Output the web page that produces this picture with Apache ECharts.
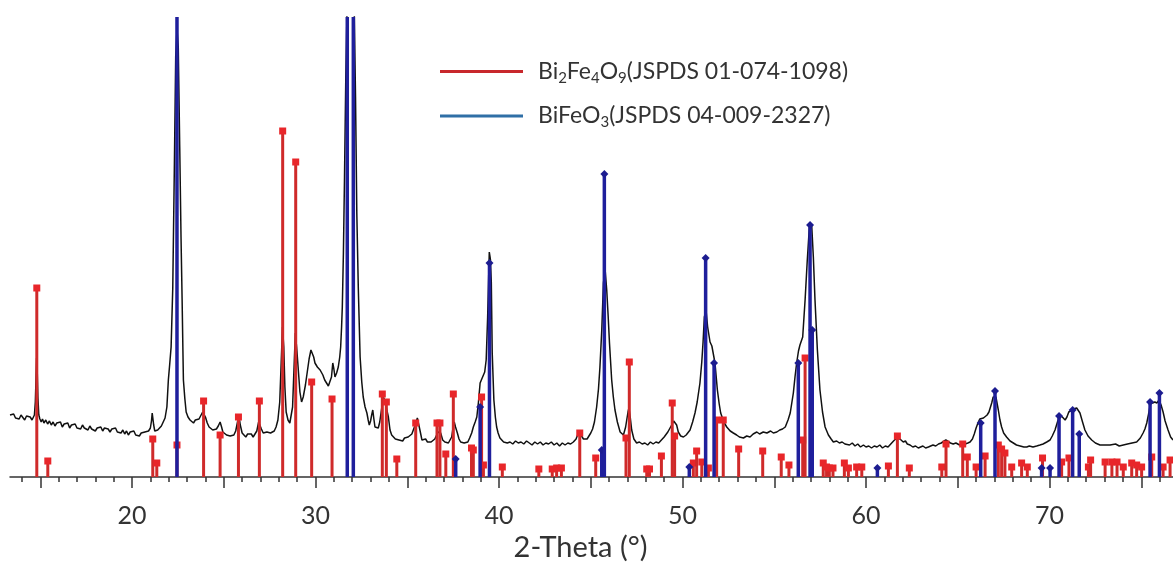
<!DOCTYPE html>
<html><head><meta charset="utf-8">
<script src="https://cdn.jsdelivr.net/npm/echarts@6/dist/echarts.min.js"></script>
<style>html,body{margin:0;padding:0;background:#fff}#c{width:1173px;height:572px}</style>
</head><body><div id="c"></div>
<script>
// measured XRD pattern: [2-theta (deg), intensity (a.u.)]
const xrdPattern = [
[13.35,62],[13.45,60],[13.55,63],[13.65,59],[13.75,61],[13.85,58],[13.95,62],[14.05,60],[14.15,57],[14.25,61],[14.35,59],[14.45,60],[14.55,57],[14.62,59],[14.68,62],[14.73,75],[14.77,100],[14.8,119],[14.83,108],[14.87,80],[14.92,62],[14.98,58],[15.05,55],[15.12,58],[15.2,54],
[15.3,57],[15.4,53],[15.5,56],[15.6,52],[15.7,55],[15.8,51],[15.9,54],[16.0,52],[16.1,55],[16.2,50],[16.3,53],[16.4,51],[16.5,54],[16.6,49],[16.7,52],[16.8,50],[16.9,53],[17.0,49],[17.1,51],[17.2,48],[17.3,52],[17.4,49],[17.5,50],[17.6,47],[17.7,51],[17.8,48],[17.9,50],[18.0,46],[18.1,49],[18.2,47],[18.3,50],[18.4,46],[18.5,49],[18.6,47],[18.7,48],[18.8,45],[18.9,48],[19.0,46],[19.1,49],[19.2,45],[19.3,47],[19.4,44],[19.5,47],[19.6,43],[19.7,46],[19.8,42],[19.9,45],[20.0,43],[20.1,46],[20.2,42],[20.3,44],[20.4,41],[20.5,44],[20.6,42],[20.7,45],[20.8,47],[20.9,46],[21.0,49],[21.06,56],[21.1,64],[21.14,62],[21.18,52],[21.24,46],[21.3,45],[21.4,47],[21.5,49],[21.6,51],[21.7,55],[21.8,59],[21.9,70],[21.98,97],[22.05,112],[22.13,130],[22.22,189],[22.3,300],[22.38,420],[22.45,448],[22.52,430],[22.6,330],[22.67,240],[22.73,177],[22.77,130],[22.8,97],[22.88,78],[22.95,65],[23.05,60],[23.16,57],[23.25,55],[23.35,54],[23.45,57],[23.55,55],[23.65,58],[23.75,60],[23.85,65],[23.92,67],[24.0,60],[24.1,54],[24.2,50],[24.3,48],[24.4,47],[24.5,46],[24.6,48],[24.7,51],[24.8,55],[24.88,50],[24.95,45],[25.05,44],[25.15,42],[25.25,44],[25.35,41],[25.45,43],[25.55,42],[25.65,46],[25.75,55],[25.82,62],[25.9,52],[26.0,44],[26.1,42],[26.2,40],[26.3,43],[26.4,41],[26.5,43],[26.6,40],[26.7,42],[26.8,46],[26.9,55],[26.96,57],[27.05,48],[27.15,44],[27.25,42],[27.35,45],[27.45,43],[27.55,44],[27.65,42],[27.75,46],[27.85,50],[27.95,57],[28.05,75],[28.12,110],[28.2,150],[28.27,130],[28.33,90],[28.4,65],[28.5,57],[28.6,54],[28.68,56],[28.75,70],[28.82,105],[28.9,144],[28.97,130],[29.05,110],[29.15,85],[29.24,75],[29.33,80],[29.45,92],[29.55,105],[29.65,118],[29.75,127],[29.82,129],[29.9,120],[29.97,114],[30.1,110],[30.25,107],[30.4,102],[30.5,97],[30.6,94],[30.7,91],[30.8,90],[30.87,100],[30.94,114],[31.0,108],[31.06,100],[31.15,104],[31.24,110],[31.32,120],[31.37,130],[31.42,150],[31.46,170],[31.52,224],[31.58,300],[31.65,400],[31.72,470],[31.8,500],[31.9,490],[32.0,500],[32.1,480],[32.18,380],[32.25,264],[32.33,190],[32.43,120],[32.52,95],[32.6,80],[32.7,70],[32.8,64],[32.87,57],[32.93,52],[33.0,56],[33.06,62],[33.12,67],[33.18,58],[33.24,50],[33.33,48],[33.42,49],[33.5,55],[33.6,68],[33.7,80],[33.78,76],[33.88,77],[33.97,60],[34.06,47],[34.15,42],[34.24,40],[34.35,38],[34.45,40],[34.55,37],[34.65,39],[34.75,36],[34.85,39],[34.95,37],[35.05,40],[35.15,38],[35.25,43],[35.33,47],[35.45,53],[35.55,59],[35.62,57],[35.7,46],[35.8,37],[35.9,36],[36.0,38],[36.1,35],[36.2,37],[36.3,35],[36.4,37],[36.5,38],[36.6,40],[36.68,45],[36.75,47],[36.82,44],[36.93,37],[37.05,35],[37.15,34],[37.24,34],[37.33,37],[37.42,40],[37.5,50],[37.56,55],[37.63,50],[37.73,44],[37.82,38],[37.91,35],[38.0,36],[38.1,34],[38.2,36],[38.3,35],[38.4,39],[38.51,44],[38.6,50],[38.7,55],[38.79,60],[38.88,75],[38.97,94],[39.06,98],[39.15,100],[39.22,105],[39.3,117],[39.38,160],[39.47,225],[39.53,218],[39.58,195],[39.63,124],[39.72,77],[39.8,60],[39.87,50],[39.95,44],[40.05,39],[40.15,37],[40.25,35],[40.35,36],[40.45,34],
[40.6,35],[40.75,33],[40.9,36],[41.05,34],[41.2,35],[41.35,33],[41.5,36],[41.65,34],[41.8,32],[41.95,35],[42.1,33],[42.25,35],[42.4,32],[42.55,34],[42.7,33],[42.85,35],[43.0,32],[43.15,34],[43.3,31],[43.45,34],[43.6,32],[43.75,34],[43.9,33],[44.05,35],[44.2,38],[44.3,43],[44.4,45],[44.5,41],[44.6,38],[44.7,37],[44.8,38],[44.9,41],[45.0,44],[45.1,48],[45.2,55],[45.32,70],[45.42,88],[45.5,110],[45.6,147],[45.69,194],[45.78,208],[45.87,187],[45.95,160],[46.02,134],[46.14,97],[46.23,80],[46.32,67],[46.45,55],[46.6,45],[46.78,42],[46.9,50],[46.96,57],[47.03,65],[47.08,69],[47.15,60],[47.23,47],[47.35,38],[47.5,34],[47.65,35],[47.8,33],[47.95,34],[48.1,32],[48.25,35],[48.4,33],[48.55,35],[48.7,34],[48.85,37],[49.0,40],[49.2,45],[49.41,52],[49.52,56],[49.6,57],[49.68,52],[49.77,45],[49.9,41],[50.05,40],[50.2,42],[50.3,44],[50.41,47],[50.55,55],[50.68,64],[50.8,75],[50.95,94],[51.05,115],[51.12,135],[51.19,160],[51.28,167],[51.37,150],[51.5,135],[51.6,131],[51.68,129],[51.77,114],[51.9,87],[52.0,73],[52.08,64],[52.25,55],[52.41,50],[52.6,46],[52.77,44],[52.95,42],[53.1,40],[53.32,39],[53.5,41],[53.68,40],[53.85,43],[54.05,45],[54.2,43],[54.4,45],[54.6,44],[54.8,46],[54.95,44],[55.14,45],[55.3,47],[55.45,48],[55.6,50],[55.75,57],[55.87,64],[56.04,84],[56.13,100],[56.22,114],[56.32,126],[56.4,132],[56.55,140],[56.62,160],[56.68,177],[56.8,217],[56.91,249],[57.04,252],[57.13,220],[57.22,177],[57.35,127],[57.49,87],[57.63,65],[57.77,50],[57.95,42],[58.1,38],[58.22,35],[58.4,36],[58.55,34],[58.7,35],[58.85,33],[58.95,34],[59.1,32],[59.25,34],[59.4,31],[59.55,33],[59.7,30],[59.86,32],[60.0,30],[60.15,31],[60.3,29],[60.45,31],[60.6,30],[60.75,32],[60.9,29],[61.05,31],[61.2,30],[61.35,33],[61.5,36],[61.6,38],[61.67,39],[61.75,37],[61.85,38],[61.95,36],[62.03,35],[62.15,36],[62.25,33],[62.4,32],[62.55,30],[62.7,31],[62.85,29],[62.95,29],[63.1,31],[63.25,29],[63.4,30],[63.5,30],[63.65,32],[63.8,31],[63.95,33],[64.1,34],[64.2,35],[64.35,37],[64.45,36],[64.6,34],[64.75,33],[64.9,34],[65.1,32],[65.25,34],[65.4,33],[65.55,34],[65.67,35],[65.8,38],[65.9,43],[66.0,49],[66.1,54],[66.2,58],[66.3,60],[66.4,59],[66.5,59],[66.6,62],[66.7,65],[66.76,67],[66.85,74],[66.93,80],[66.98,82],[67.08,80],[67.15,73],[67.21,67],[67.3,57],[67.39,50],[67.5,44],[67.66,40],[67.85,36],[68.03,34],[68.2,32],[68.4,31],[68.6,30],[68.76,30],[68.9,31],[69.1,30],[69.3,31],[69.48,32],[69.65,33],[69.85,35],[70.03,37],[70.15,41],[70.3,47],[70.45,56],[70.57,62],[70.7,60],[70.85,57],[70.95,60],[71.05,65],[71.12,67],[71.3,68],[71.48,69],[71.56,67],[71.66,64],[71.8,55],[71.93,47],[72.1,41],[72.3,37],[72.5,34],[72.75,32],[73.0,32],[73.3,32],[73.6,33],[73.8,31],[74.02,32],[74.25,33],[74.5,34],[74.75,35],[74.95,39],[75.1,44],[75.2,48],[75.3,54],[75.4,63],[75.5,74],[75.62,74],[75.74,75],[75.85,74],[75.97,77],[76.08,72],[76.19,65],[76.3,56],[76.46,47],[76.6,40],[76.73,37]
];
// reference pattern Bi2Fe4O9 (JSPDS 01-074-1098): [2-theta, relative intensity]
const bi2fe4o9Sticks = [
[14.81,189],[15.41,16],[21.13,38],[21.35,14],[22.45,32],[23.9,76],[24.8,42],[25.8,60],[26.94,76],[28.21,346],[28.92,315],[29.79,95],[30.9,78],[33.64,83],[33.86,75],[34.43,18],[35.46,54],[36.62,54],[36.78,54],[37.1,23],[37.51,83],[38.5,29],[38.6,27],[39.05,80],[39.15,12],[40.18,10],[42.17,8],[42.9,8],[43.14,9],[43.4,9],[44.4,44],[45.27,19],[46.92,39],[47.1,115],[48.05,8],[48.2,8],[48.85,21],[49.44,74],[49.57,41],[50.59,14],[50.77,26],[51.05,15],[51.41,9],[51.86,57],[52.22,57],[53.06,28],[54.37,26],[55.38,20],[55.8,12],[56.55,37],[56.68,119],[57.67,14],[57.85,10],[58.0,9],[58.2,9],[58.82,14],[59.04,9],[59.49,10],[59.77,10],[61.22,11],[61.71,41],[62.36,9],[64.13,10],[64.36,33],[65.27,33],[65.52,20],[66.0,10],[66.49,21],[67.21,32],[67.39,28],[67.57,24],[67.94,10],[68.48,14],[68.79,10],[69.62,19],[70.66,15],[71.06,19],[72.12,10],[72.24,17],[73.03,15],[73.4,15],[73.68,15],[74.02,10],[74.48,14],[74.75,12],[75.02,10],[75.57,20],[76.19,10],[76.57,17]
];
// reference pattern BiFeO3 (JSPDS 04-009-2327)
const bifeo3Sticks = [
[22.45,500],[31.73,500],[32.06,500],[37.64,18],[38.97,70],[39.48,214],[45.6,27],[45.74,303],[50.37,10],[51.26,219],[51.72,114],[56.31,114],[56.95,252],[57.07,147],[60.62,9],[66.25,54],[67.03,86],[69.57,9],[70.03,9],[70.52,61],[71.26,67],[71.62,43],[75.48,75],[75.99,84]
];
const majorTicks = [15,20,25,30,35,40,45,50,55,60,65,70,75];
const tickLabels = [20,30,40,50,60,70];
const minorTicks = [14,15,16,17,18,19,20,21,22,23,24,25,26,27,28,29,30,31,32,33,34,35,36,37,38,39,40,41,42,43,44,45,46,47,48,49,50,51,52,53,54,55,56,57,58,59,60,61,62,63,64,65,66,67,68,69,70,71,72,73,74,75,76];
const legendLabels = {
  'Bi2Fe4O9': '{n|Bi}{s|2}{n|Fe}{s|4}{n|O}{s|9}{n|(JSPDS 01-074-1098)}',
  'BiFeO3': '{n|BiFeO}{s|3}{n|(JSPDS 04-009-2327)}'
};

function stickRenderer(lineColor, markColor, shape, w, ms) {
  return function (params, api) {
    const x = api.value(0), h = api.value(1);
    const p0 = api.coord([x, 0]), p1 = api.coord([x, h]);
    const children = [{type: 'line', shape: {x1: p0[0], y1: p0[1], x2: p1[0], y2: p1[1]}, style: {stroke: lineColor, lineWidth: w}}];
    if (shape === 'rect') {
      children.push({type: 'rect', shape: {x: p1[0] - ms / 2, y: p1[1] - ms / 2, width: ms, height: ms}, style: {fill: markColor}});
    } else {
      children.push({type: 'polygon', shape: {points: [[p1[0], p1[1] - ms / 2], [p1[0] + ms / 2, p1[1]], [p1[0], p1[1] + ms / 2], [p1[0] - ms / 2, p1[1]]]}, style: {fill: markColor}});
    }
    return {type: 'group', children: children};
  };
}

const chart = echarts.init(document.getElementById('c'), null, {renderer: 'canvas'});
const axisColor = '#333';
chart.setOption({
  animation: false,
  backgroundColor: '#fff',
  grid: {left: 10, right: 0, top: 17, bottom: 95},
  legend: {
    orient: 'vertical', left: 435, top: 55, itemWidth: 83, itemHeight: 3, itemGap: 19, icon: 'rect', selectedMode: false,
    data: [{name: 'Bi2Fe4O9', itemStyle: {color: '#c8282c'}}, {name: 'BiFeO3', itemStyle: {color: '#2f6fa6'}}],
    formatter: function (n) { return legendLabels[n]; },
    textStyle: {padding: [0, 0, 0, 10], rich: {
      n: {fontSize: 23, fontFamily: 'Lato', color: '#333', lineHeight: 28},
      s: {fontSize: 15, fontFamily: 'Lato', color: '#333', lineHeight: 16, verticalAlign: 'bottom'}
    }}
  },
  xAxis: [{
    type: 'value', min: 13.35, max: 76.73, position: 'bottom',
    axisLine: {lineStyle: {color: axisColor, width: 1.5}},
    axisTick: {customValues: majorTicks, length: 11, lineStyle: {color: axisColor, width: 1.5}},
    axisLabel: {customValues: tickLabels, fontSize: 25, fontFamily: 'Lato', color: '#333', margin: 26},
    splitLine: {show: false},
    name: '2-Theta (°)', nameLocation: 'middle', nameGap: 55,
    nameTextStyle: {fontSize: 29, fontFamily: 'Lato', color: '#333', padding: [0, 22, 0, 0]}
  }, {
    type: 'value', min: 13.35, max: 76.73, position: 'bottom', offset: 0,
    axisLine: {show: false},
    axisTick: {customValues: minorTicks, length: 5, lineStyle: {color: axisColor, width: 1.5}},
    axisLabel: {show: false},
    splitLine: {show: false}
  }],
  yAxis: {type: 'value', min: 0, max: 460, show: false},
  series: [
    {name: 'XRD', type: 'line', data: xrdPattern, symbol: 'none', z: 2, clip: true,
     lineStyle: {color: '#111', width: 1.5}},
    {name: 'Bi2Fe4O9', type: 'custom', data: bi2fe4o9Sticks, z: 3, clip: true,
     itemStyle: {color: '#c8282c'},
     renderItem: stickRenderer('#cf2a2a', '#e8262a', 'rect', 3, 7)},
    {name: 'BiFeO3', type: 'custom', data: bifeo3Sticks, z: 4, clip: true,
     itemStyle: {color: '#2f6fa6'},
     renderItem: stickRenderer('#1f1f9c', '#1c1c90', 'diamond', 3.5, 8)}
  ]
});
</script></body></html>
